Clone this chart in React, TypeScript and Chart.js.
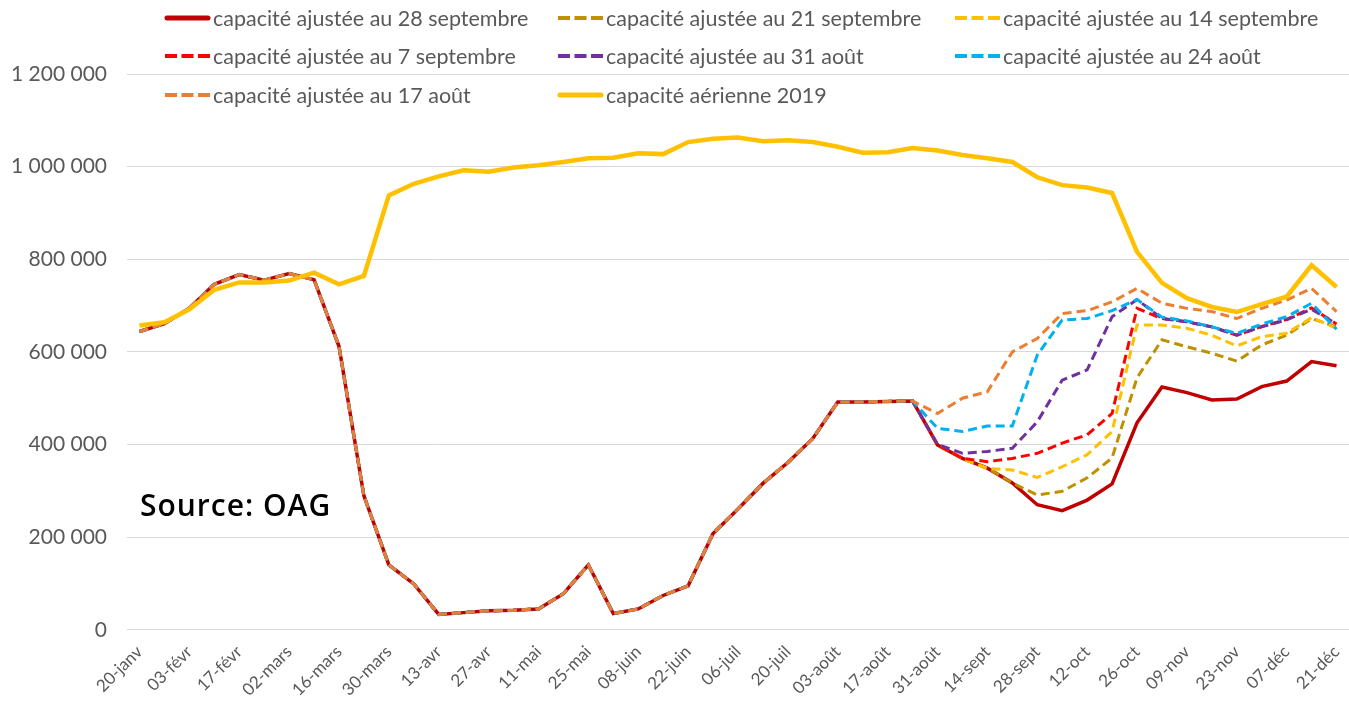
import { useEffect, useRef } from 'react';
import { Chart, registerables } from 'chart.js';

Chart.register(...registerables);

const semaines = [
  '20-janv', '27-janv', '03-févr', '10-févr', '17-févr', '24-févr', '02-mars', '09-mars', '16-mars', '23-mars',
  '30-mars', '06-avr', '13-avr', '20-avr', '27-avr', '04-mai', '11-mai', '18-mai', '25-mai', '01-juin',
  '08-juin', '15-juin', '22-juin', '29-juin', '06-juil', '13-juil', '20-juil', '27-juil', '03-août', '10-août',
  '17-août', '24-août', '31-août', '07-sept', '14-sept', '21-sept', '28-sept', '05-oct', '12-oct', '19-oct',
  '26-oct', '02-nov', '09-nov', '16-nov', '23-nov', '30-nov', '07-déc', '14-déc', '21-déc',
];

// Common adjusted capacity, weeks 20-janv .. 24-août
const baseCommune = [
  644000, 661000, 694000, 746000, 767000, 755000, 769000, 756000, 612000, 289000,
  140000, 99000, 33000, 37000, 41000, 42000, 45000, 78000, 140000, 35000,
  45000, 74000, 95000, 208000, 261000, 316000, 361000, 413000, 492000, 492000,
  493000, 494000,
];

// Tails from 31-août .. 21-déc
const fin28Sept = [399000, 370000, 349000, 317000, 270000, 257000, 280000, 315000, 447000, 524000, 512000, 496000, 498000, 525000, 537000, 579000, 570000];
const fin21Sept = [399000, 370000, 349000, 317000, 291000, 299000, 328000, 371000, 544000, 626000, 611000, 597000, 580000, 615000, 636000, 672000, 654000];
const fin14Sept = [399000, 370000, 348000, 345000, 329000, 352000, 378000, 428000, 658000, 658000, 651000, 636000, 613000, 633000, 640000, 674000, 651000];
const fin7Sept = [399000, 370000, 363000, 370000, 381000, 403000, 421000, 467000, 694000, 672000, 665000, 654000, 636000, 655000, 670000, 695000, 660000];
const fin31Aout = [400000, 381000, 385000, 392000, 449000, 539000, 561000, 676000, 713000, 672000, 665000, 654000, 636000, 654000, 669000, 692000, 660000];
const fin24Aout = [435000, 428000, 440000, 440000, 593000, 669000, 672000, 689000, 713000, 675000, 667000, 654000, 640000, 660000, 676000, 705000, 649000];
const fin17Aout = [467000, 500000, 514000, 600000, 629000, 683000, 689000, 708000, 737000, 705000, 694000, 687000, 672000, 694000, 712000, 737000, 687000];

const capacite2019 = [
  657000, 664000, 692000, 734000, 750000, 750000, 754000, 771000, 746000, 764000,
  938000, 963000, 979000, 992000, 989000, 998000, 1003000, 1010000, 1018000, 1019000,
  1029000, 1027000, 1053000, 1060000, 1063000, 1055000, 1057000, 1053000, 1043000, 1030000,
  1031000, 1040000, 1035000, 1025000, 1018000, 1010000, 977000, 960000, 955000, 943000,
  816000, 749000, 716000, 697000, 686000, 703000, 719000, 787000, 740000,
];

const yTicks = [0, 200000, 400000, 600000, 800000, 1000000, 1200000];
const sourceText = 'Source: OAG';

const FONT = 'Lato, "Open Sans", sans-serif';
const TEXT_GREY = '#595959';

const fmt = (n: number) => String(n).replace(/\B(?=(\d{3})+(?!\d))/g, ' ');

const DASH = [9, 5];

const legendGrid = {
  id: 'legendGrid',
  afterDraw(chart: any) {
    const ctx = chart.ctx as CanvasRenderingContext2D;
    ctx.save();
    const colX = [165, 558, 955];
    const rowY = [18, 56, 95];
    chart.data.datasets.forEach((ds: any, i: number) => {
      const x = colX[i % 3];
      const y = rowY[Math.floor(i / 3)];
      const dashed = ds.borderDash && ds.borderDash.length > 0;
      ctx.strokeStyle = ds.borderColor;
      ctx.lineWidth = dashed ? 4 : 5;
      ctx.lineCap = dashed ? 'butt' : 'round';
      ctx.setLineDash(dashed ? [12, 4.5] : []);
      ctx.beginPath();
      ctx.moveTo(x + (dashed ? 0 : 2), y);
      ctx.lineTo(x + (dashed ? 45 : 43), y);
      ctx.stroke();
      ctx.setLineDash([]);
      ctx.fillStyle = TEXT_GREY;
      ctx.font = `21.5px ${FONT}`;
      ctx.textBaseline = 'middle';
      ctx.textAlign = 'left';
      ctx.fillText(ds.label, x + 48, y + 1);
    });
    ctx.font = `600 30px "Open Sans", sans-serif`;
    (ctx as any).letterSpacing = '1px';
    ctx.fillStyle = '#000';
    ctx.textBaseline = 'alphabetic';
    ctx.fillText(sourceText, 140, 516);
    ctx.restore();
  },
};

export default function App() {
  const ref = useRef<HTMLCanvasElement | null>(null);

  useEffect(() => {
    if (!ref.current) return;
    const mk = (tail: number[]) => baseCommune.concat(tail);
    const series = [
      { label: 'capacité ajustée au 28 septembre', data: mk(fin28Sept), color: '#C00000', dash: [], w: 3.5, order: 7 },
      { label: 'capacité ajustée au 21 septembre', data: mk(fin21Sept), color: '#BF9000', dash: DASH, w: 3, order: 6 },
      { label: 'capacité ajustée au 14 septembre', data: mk(fin14Sept), color: '#FFC000', dash: DASH, w: 3, order: 5 },
      { label: 'capacité ajustée au 7 septembre', data: mk(fin7Sept), color: '#FF0000', dash: DASH, w: 3, order: 4 },
      { label: 'capacité ajustée au 31 août', data: mk(fin31Aout), color: '#7030A0', dash: DASH, w: 3, order: 3 },
      { label: 'capacité ajustée au 24 août', data: mk(fin24Aout), color: '#00B0F0', dash: DASH, w: 3, order: 2 },
      { label: 'capacité ajustée au 17 août', data: mk(fin17Aout), color: '#ED7D31', dash: DASH, w: 3, order: 1 },
      { label: 'capacité aérienne 2019', data: capacite2019, color: '#FFC000', dash: [], w: 4.5, order: 0 },
    ];

    const chart = new Chart(ref.current, {
      type: 'line',
      data: {
        labels: semaines,
        datasets: series.map((s) => ({
          label: s.label,
          data: s.data,
          borderColor: s.color,
          backgroundColor: s.color,
          borderDash: s.dash,
          borderWidth: s.w,
          pointRadius: 0,
          tension: 0,
          fill: false,
          order: s.order,
        })),
      },
      options: {
        responsive: false,
        animation: false,
        layout: { padding: { top: 74, left: 0, right: 0, bottom: 11 } },
        plugins: {
          legend: { display: false },
          tooltip: { enabled: false },
        },
        scales: {
          x: {
            type: 'category',
            offset: true,
            grid: { display: false },
            border: { display: false },
            afterFit: (axis: any) => {
              axis.paddingRight = 0;
              axis.paddingLeft = 0;
            },
            ticks: {
              autoSkip: false,
              minRotation: 45,
              maxRotation: 45,
              padding: 4,
              color: TEXT_GREY,
              font: { family: FONT, size: 17 },
              callback: (_v: any, i: number) => (i % 2 === 0 ? semaines[i] : ''),
            },
          },
          y: {
            min: 0,
            max: 1200000,
            afterBuildTicks: (axis: any) => {
              axis.ticks = yTicks.map((v) => ({ value: v }));
            },
            afterFit: (axis: any) => {
              axis.width = 127;
            },
            grid: { color: '#D9D9D9', lineWidth: 1, drawTicks: false },
            border: { display: false },
            ticks: {
              padding: 20,
              color: TEXT_GREY,
              font: { family: FONT, size: 21 },
              callback: (v: any) => fmt(Number(v)),
            },
          },
        },
      },
      plugins: [legendGrid],
    });
    return () => chart.destroy();
  }, []);

  return (
    <div style={{ position: 'fixed', left: 0, top: 0, width: 1349, height: 715, background: '#fff' }}>
      <canvas ref={ref} width={1349} height={715} />
    </div>
  );
}
